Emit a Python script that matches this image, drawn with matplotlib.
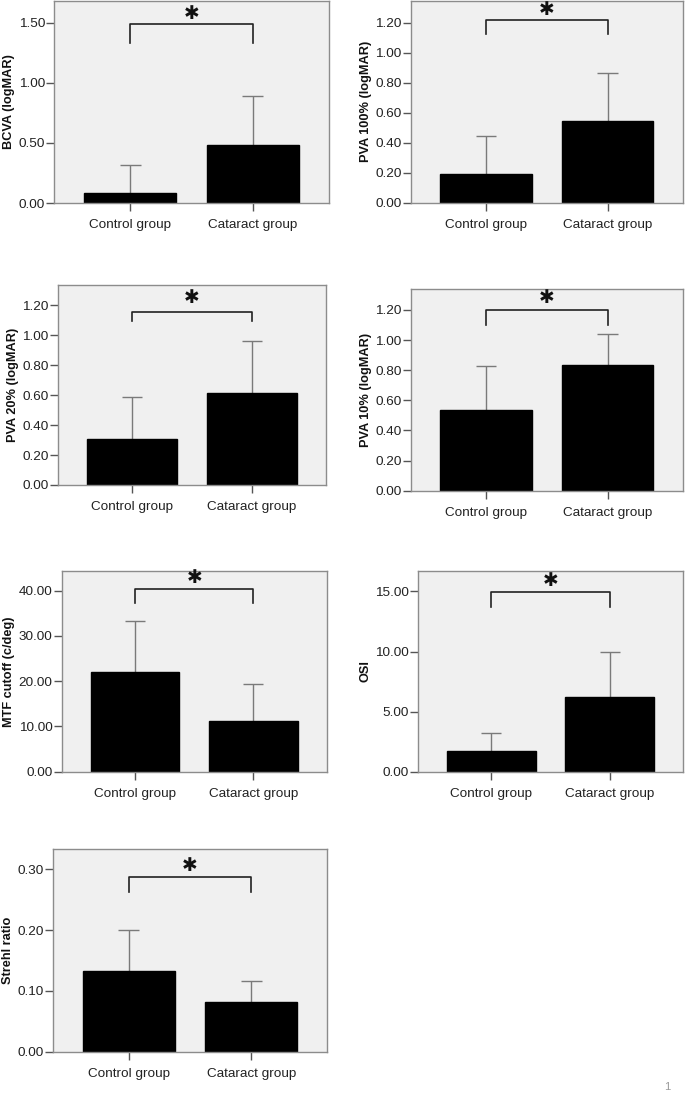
import matplotlib
matplotlib.use('Agg')
import matplotlib.pyplot as plt
import numpy as np

plt.rcParams['font.family'] = ['Liberation Sans', 'DejaVu Sans']

# Data
# --------------
groups = ['Control group', 'Cataract group']

labels = ['BCVA (logMAR)', 'PVA 100% (logMAR)', 'PVA 20% (logMAR)',
          'PVA 10% (logMAR)', 'MTF cutoff (c/deg)', 'OSI', 'Strehl ratio']

means = [[0.086, 0.48], [0.19, 0.545], [0.305, 0.617], [0.534, 0.833],
         [22.0, 11.3], [1.72, 6.25], [0.133, 0.081]]
upper = [[0.32, 0.89], [0.445, 0.868], [0.588, 0.96], [0.828, 1.038],
         [33.3, 19.4], [3.25, 10.0], [0.20, 0.117]]

# significance bracket: top, leg end, star height
bracket_top = [1.49, 1.218, 1.154, 1.20, 40.4, 14.95, 0.288]
bracket_leg = [1.33, 1.125, 1.095, 1.10, 37.2, 13.7, 0.263]
star_y = [1.58, 1.29, 1.25, 1.28, 43.0, 15.9, 0.307]

ymax = [1.68, 1.35, 1.336, 1.337, 44.35, 16.7, 0.3334]
ystep = [0.5, 0.2, 0.2, 0.2, 10, 5, 0.1]
yticktop = [1.5, 1.2, 1.2, 1.2, 40, 15, 0.3]

# Axes boxes in pixels: left, top, right, bottom
W, H = 685, 1097
boxes = [(54, 1, 329, 203), (410.7, 0.5, 683, 202.7),
         (57.7, 285, 326, 485), (410.7, 289.3, 683, 490.7),
         (61.7, 571, 326.7, 771.7), (417.7, 571, 683, 771.7),
         (52.7, 849, 327.3, 1051.7)]

fig = plt.figure(figsize=(W/100, H/100), dpi=100)

spine_c = '#8c8c8c'
err_c = '#7a7a7a'
x = np.arange(len(groups))

for i in range(len(labels)):
    l, t, r, b = boxes[i]
    ax = fig.add_axes([l/W, 1 - b/H, (r-l)/W, (b-t)/H])
    ax.set_facecolor('#f0f0f0')

    m = np.array(means[i])
    u = np.array(upper[i])
    ax.vlines(x, m, u, color=err_c, lw=1, zorder=1)
    ax.hlines(u, x - 0.085, x + 0.085, color=err_c, lw=1, zorder=1)
    ax.bar(x, m, width=0.75, color='black', edgecolor='black', zorder=2)

    # bracket + star
    ax.plot([x[0], x[0], x[1], x[1]],
            [bracket_leg[i], bracket_top[i], bracket_top[i], bracket_leg[i]],
            color='#222222', lw=1.2, zorder=3)
    ax.text((x[0]+x[1])/2, star_y[i], '\u2731', ha='center', va='center',
            fontsize=13.5, color='#111111', family='DejaVu Sans')

    ax.set_xlim(-0.62, 1.62)
    ax.set_ylim(0, ymax[i])
    ax.set_yticks(np.arange(0, yticktop[i] + ystep[i]/2, ystep[i]))
    ax.yaxis.set_major_formatter(matplotlib.ticker.FormatStrFormatter('%.2f'))
    ax.set_xticks(x)
    ax.set_xticklabels(groups)
    ax.tick_params(axis='both', labelsize=9.7, colors='#555555',
                   labelcolor='#222222', length=5.5, width=1, direction='out')
    ax.tick_params(axis='x', pad=6)
    ax.tick_params(axis='y', pad=1)
    ax.set_ylabel(labels[i], fontsize=9.2, fontweight='bold', color='#111111',
                  labelpad=2.5)
    for s in ax.spines.values():
        s.set_color(spine_c)
        s.set_linewidth(1)

fig.text(667/W, 1 - 1087/H, '1', fontsize=8, color='#999999',
         ha='center', va='center')

plt.savefig('out.png', dpi=100)
